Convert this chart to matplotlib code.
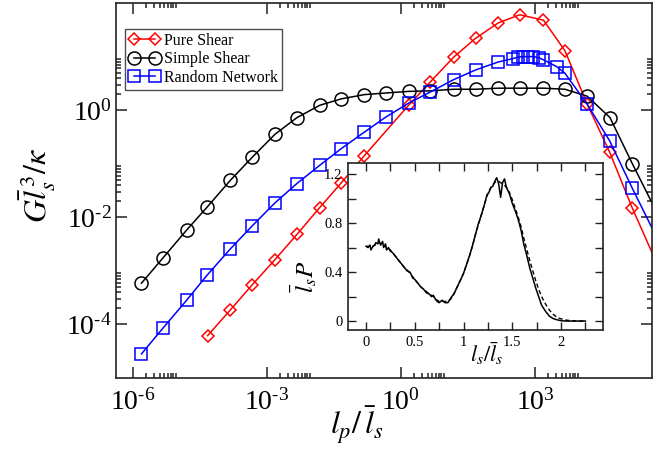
import numpy as np
import matplotlib
matplotlib.use("Agg")
import matplotlib.pyplot as plt
from matplotlib.ticker import FixedLocator, NullFormatter, FuncFormatter

plt.rcParams.update({"font.family": "Liberation Serif", "mathtext.fontset": "stix",
                     "axes.linewidth": 1.2, "axes.edgecolor": "#222222"})

# ---- main panel: log10(l_p / l_s) and log10(G l_s^3 / kappa) ----
pure_lx = [-4.33, -3.82, -3.33, -2.82, -2.33, -1.82, -1.34, -0.82, 0.17, 0.66, 1.18, 1.67,
           2.18, 2.66, 3.19, 3.67, 4.17, 4.67, 5.18, 5.68]
pure_ly = [-4.21, -3.73, -3.26, -2.79, -2.32, -1.82, -1.36, -0.85, 0.09, 0.53, 0.99, 1.34,
           1.63, 1.78, 1.68, 1.11, 0.11, -0.78, -1.83, -2.77]
simple_lx = [-5.81, -5.33, -4.80, -4.34, -3.82, -3.33, -2.82, -2.33, -1.82, -1.34, -0.82, -0.34,
             0.17, 0.66, 1.18, 1.67, 2.18, 2.66, 3.19, 3.67, 4.17, 4.68, 5.18, 5.68]
simple_ly = [-3.23, -2.76, -2.24, -1.81, -1.31, -0.88, -0.45, -0.14, 0.09, 0.21, 0.29, 0.32,
             0.35, 0.36, 0.39, 0.39, 0.41, 0.41, 0.41, 0.39, 0.26, -0.14, -1.00, -1.83]
random_lx = [-5.81, -5.33, -4.80, -4.34, -3.82, -3.33, -2.82, -2.33, -1.82, -1.34, -0.82, -0.34,
             0.17, 0.66, 1.18, 1.67, 2.18, 2.50, 2.62, 2.73, 2.85, 2.96, 3.08, 3.19, 3.49, 3.67,
             4.17, 4.67, 5.18, 5.68]
random_ly = [-4.55, -4.07, -3.55, -3.08, -2.59, -2.16, -1.73, -1.37, -1.03, -0.72, -0.41, -0.13,
             0.13, 0.34, 0.57, 0.75, 0.90, 0.96, 0.99, 1.00, 1.00, 1.00, 0.98, 0.94, 0.81, 0.69,
             0.11, -0.57, -1.46, -2.30]

# ---- inset: segment length distribution ----
ins_x = [0.00, 0.02, 0.04, 0.05, 0.07, 0.09, 0.10, 0.12, 0.13, 0.14, 0.15, 0.17, 0.18, 0.20, 0.21,
         0.23, 0.25, 0.27, 0.30, 0.33, 0.36, 0.39, 0.42, 0.45, 0.48, 0.50, 0.53, 0.56, 0.59, 0.62,
         0.65, 0.67, 0.69, 0.71, 0.73, 0.75, 0.78, 0.81, 0.84, 0.87, 0.90, 0.93, 0.96, 1.00, 1.03,
         1.06, 1.09, 1.12, 1.15, 1.18, 1.21, 1.24, 1.26, 1.28, 1.30, 1.32, 1.34, 1.36, 1.38, 1.40,
         1.42, 1.44, 1.47, 1.50, 1.53, 1.56, 1.59, 1.62, 1.65, 1.68, 1.71, 1.74, 1.77, 1.80, 1.84,
         1.88, 1.92, 1.96, 2.00, 2.05, 2.10, 2.15, 2.20, 2.25]
ins_solid = [0.61, 0.60, 0.62, 0.58, 0.61, 0.62, 0.64, 0.63, 0.67, 0.64, 0.62, 0.65, 0.60, 0.63, 0.58,
             0.60, 0.57, 0.56, 0.53, 0.50, 0.47, 0.44, 0.41, 0.40, 0.35, 0.34, 0.31, 0.28, 0.26, 0.23,
             0.22, 0.20, 0.21, 0.18, 0.16, 0.15, 0.17, 0.15, 0.15, 0.19, 0.22, 0.27, 0.32, 0.39, 0.46,
             0.53, 0.61, 0.70, 0.79, 0.86, 0.94, 1.03, 1.05, 1.09, 1.10, 1.14, 1.17, 1.12, 1.01, 1.13,
             1.16, 1.09, 1.04, 0.96, 0.90, 0.83, 0.74, 0.62, 0.53, 0.43, 0.35, 0.27, 0.20, 0.13, 0.08,
             0.04, 0.02, 0.01, 0.003, 0.0, 0.0, 0.0, 0.0, 0.0]
ins_dashed = [0.61, 0.61, 0.61, 0.60, 0.61, 0.62, 0.63, 0.63, 0.64, 0.64, 0.63, 0.63, 0.62, 0.61, 0.60,
              0.59, 0.58, 0.56, 0.53, 0.50, 0.47, 0.44, 0.42, 0.39, 0.36, 0.34, 0.31, 0.28, 0.26, 0.24,
              0.22, 0.21, 0.20, 0.18, 0.17, 0.16, 0.16, 0.16, 0.16, 0.18, 0.22, 0.27, 0.32, 0.39, 0.46,
              0.53, 0.61, 0.70, 0.78, 0.86, 0.94, 1.02, 1.06, 1.09, 1.11, 1.13, 1.14, 1.14, 1.13, 1.12,
              1.11, 1.09, 1.05, 0.99, 0.92, 0.85, 0.77, 0.67, 0.58, 0.49, 0.41, 0.33, 0.26, 0.20, 0.14,
              0.09, 0.055, 0.03, 0.018, 0.008, 0.003, 0.001, 0.0, 0.0]

SERIES = [("Pure Shear", pure_lx, pure_ly, "#ff0000", "D", 6.2),
          ("Simple Shear", simple_lx, simple_ly, "#000000", "o", 9.4),
          ("Random Network", random_lx, random_ly, "#0000ff", "s", 8.4)]


def pow10(v, pos):
    e = int(round(np.log10(v)))
    s = str(e) if e >= 0 else r"\text{-}" + str(-e)
    return r"$\mathdefault{10^{%s}}$" % s


fig = plt.figure(figsize=(6.72, 4.55), dpi=100)
ax = fig.add_axes([116 / 672, 77 / 455, 536 / 672, 375 / 455])
for name, lx, ly, col, mk, ms in SERIES:
    ax.plot(np.power(10.0, lx), np.power(10.0, ly), color=col, lw=1.1, marker=mk, ms=ms,
            mfc="none", mec=col, mew=1.1, markevery=slice(0, len(lx) - 1), label=name)
ax.set_xscale("log"); ax.set_yscale("log")
ax.set_xlim(10 ** -6.38, 10 ** 5.62); ax.set_ylim(1e-5, 1e2)
ax.xaxis.set_major_locator(FixedLocator([1e-6, 1e-3, 1e0, 1e3]))
ax.xaxis.set_minor_locator(FixedLocator([k * 10.0 ** m for m in (-6, -3, 0, 3) for k in range(2, 10)]))
ax.yaxis.set_major_locator(FixedLocator([1e-4, 1e-2, 1e0]))
ax.yaxis.set_minor_locator(FixedLocator([k * 10.0 ** m for m in (-4, -2, 0) for k in range(2, 10)]))
ax.xaxis.set_major_formatter(FuncFormatter(pow10)); ax.yaxis.set_major_formatter(FuncFormatter(pow10))
ax.xaxis.set_minor_formatter(NullFormatter()); ax.yaxis.set_minor_formatter(NullFormatter())
ax.tick_params(which="both", direction="in", top=True, right=True, width=1.1, color="#222222")
ax.tick_params(which="major", length=8, labelsize=20)
ax.tick_params(which="minor", length=3.8)
ax.tick_params(axis="x", which="major", pad=8)
ax.tick_params(axis="y", which="major", pad=3)

leg = ax.legend(loc="upper left", bbox_to_anchor=(0.017, 0.931), borderaxespad=0, numpoints=2,
                handlelength=1.9, handletextpad=0.3, fontsize=11.5, fancybox=False, frameon=True,
                edgecolor="#222222", borderpad=0.25, labelspacing=0.15)
leg.get_frame().set_linewidth(1.0)

fig.text(38 / 672, 1 - 185 / 455, r"$G\bar{l}_s^{\;3}/\kappa$", rotation=90, ha="center", va="center",
         fontsize=23)
fig.text(357 / 672, 1 - 425 / 455, r"$l_p/\,\bar{l}_s$", ha="center", va="center", fontsize=23)

# ---- inset ----
ins = fig.add_axes([348 / 672, 125 / 455, 255 / 672, 167 / 455], facecolor="white", zorder=5)
ins.plot(ins_x, ins_dashed, color="black", lw=1.0, ls=(0, (3, 2)))
ins.plot(ins_x, ins_solid, color="black", lw=1.1)
ins.set_xlim(-0.185, 2.43); ins.set_ylim(-0.073, 1.29)
ins.xaxis.set_major_locator(FixedLocator([0, 0.5, 1, 1.5, 2]))
ins.xaxis.set_minor_locator(FixedLocator([0.25, 0.75, 1.25, 1.75, 2.25]))
ins.yaxis.set_major_locator(FixedLocator([0, 0.4, 0.8, 1.2]))
ins.yaxis.set_minor_locator(FixedLocator([0.2, 0.6, 1.0]))
fmt = FuncFormatter(lambda v, p: "%g" % v)
ins.xaxis.set_major_formatter(fmt); ins.yaxis.set_major_formatter(fmt)
ins.tick_params(which="both", direction="in", top=True, right=True, width=1.0, color="#222222",
                labelsize=10.5, pad=4)
ins.tick_params(which="major", length=6)
ins.tick_params(which="minor", length=6)
fig.text(487 / 672, 1 - 354 / 455, r"$l_s/\bar{l}_s$", ha="center", va="center", fontsize=16, zorder=6)
fig.text(304 / 672, 1 - 277 / 455, r"$\bar{l}_s P$", rotation=90, ha="center", va="center", fontsize=18)

fig.savefig("out.png", dpi=100)
